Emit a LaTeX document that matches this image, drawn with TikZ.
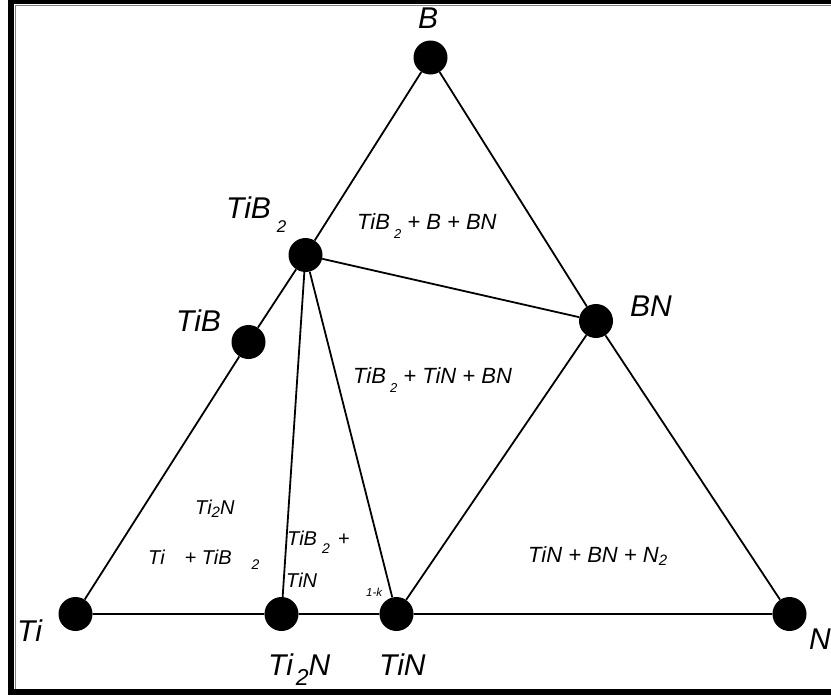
\documentclass[tikz,border=0pt]{standalone}
\usepackage{fontspec}
\setmainfont{Liberation Sans}
\begin{document}
\begin{tikzpicture}[x=1pt,y=-1pt,
  dot/.style={circle,fill=black,minimum size=34pt,inner sep=0pt},
  tie/.style={line width=1.8pt},
  big/.style={font=\fontsize{30}{30}\selectfont\itshape,inner sep=0pt,anchor=base west},
  reg/.style={font=\fontsize{22}{22}\selectfont\itshape,inner sep=0pt,anchor=base west},
  mixlbl/.style={font=\fontsize{20}{20}\selectfont\itshape,inner sep=0pt,anchor=base west},
  klbl/.style={font=\fontsize{11.5}{11.5}\selectfont\itshape,inner sep=0pt,anchor=base west}]
\useasboundingbox (0,0) rectangle (831,696);
% page frame
\fill[white] (0,0) rectangle (831,696);
\fill[black] (8,0) rectangle (831,3.5);
\fill[black] (8,0) rectangle (14,695);
\fill[black] (8,689) rectangle (831,695);
\draw[gray,line width=1pt] (15,5) -- (831,5);
\draw[gray,line width=1pt] (15,5) -- (15,689);

% phases
\node[dot] (B) at (430.5,57.5) {};
\node[dot] (TiBtwo) at (305.5,255) {};
\node[dot] (TiB) at (248.5,342) {};
\node[dot] (BN) at (596,321) {};
\node[dot] (Ti) at (75.5,614) {};
\node[dot] (TiTwoN) at (281.5,614) {};
\node[dot] (TiN) at (396.5,614) {};
\node[dot] (N) at (789.5,614) {};

% tie lines
\draw[tie] (B) -- (TiBtwo) -- (TiB) -- (Ti) -- (TiTwoN) -- (TiN) -- (N) -- (BN) -- (B);
\draw[tie] (TiBtwo) -- (BN);
\draw[tie] (TiBtwo) -- (TiTwoN);
\draw[tie] (TiBtwo) -- (TiN);
\draw[tie] (BN) -- (TiN);

% phase labels
\node[big] (lB) at (418,28) {B};
\node[big] (lTiBtwo) at (226,218) {TiB\kern6pt\raisebox{-14pt}{\fontsize{17}{17}\selectfont 2}};
\node[big] (lTiB) at (176,331) {TiB};
\node[big] (lBN) at (630,316) {BN};
\node[big] (lTi) at (17,641) {Ti};
\node[big] (lTiTwoN) at (268,675) {Ti\kern3pt\raisebox{-10pt}{\fontsize{23}{23}\selectfont 2}N};
\node[big] (lTiN) at (379,675) {TiN};
\node[big] (lN) at (809,649) {N};

% phase-field labels
\node[reg] (rTop) at (357,229) {TiB\kern4pt\raisebox{-9pt}{\fontsize{13}{13}\selectfont 2}\ + B + BN};
\node[reg] (rMid) at (353,383) {TiB\kern4pt\raisebox{-9pt}{\fontsize{13}{13}\selectfont 2}\ + TiN + BN};
\node[reg] (rRight) at (528,562) {TiN + BN + N\raisebox{-3pt}{\fontsize{15}{15}\selectfont 2}};
\node[mixlbl] (rTiTwoN) at (195,514) {Ti\raisebox{-3pt}{\fontsize{15}{15}\selectfont 2}N};
\node[mixlbl] (rTi) at (148,564) {Ti\hspace{20pt}+ TiB\hspace{20pt}\raisebox{-5pt}{\fontsize{14}{14}\selectfont 2}};
\node[mixlbl] (rTiBtwo) at (287,545) {TiB\kern5pt\raisebox{-8pt}{\fontsize{14}{14}\selectfont 2}\kern8pt+};
\node[mixlbl] (rTiN) at (286,587) {TiN};
\node[klbl] (lk) at (366,596) {1-k};
\end{tikzpicture}
\end{document}
